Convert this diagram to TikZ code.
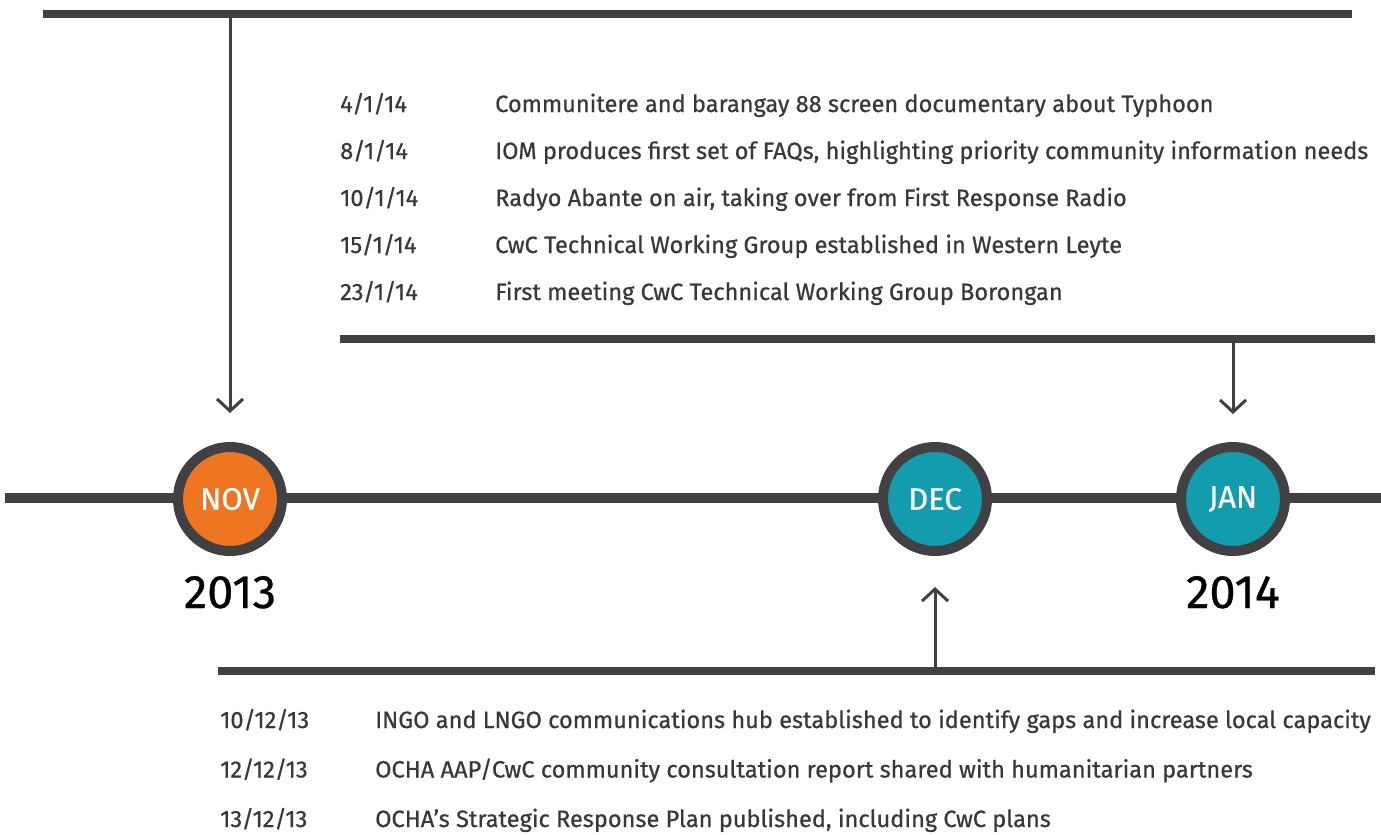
\documentclass[tikz,border=0pt]{standalone}
\usepackage{fontspec}
\setmainfont{Fira Sans}[UprightFeatures={FakeBold=0.6}]
\usepackage{xcolor}
\usetikzlibrary{arrows.meta}
\definecolor{bar}{HTML}{414042}
\definecolor{novc}{HTML}{EE7623}
\definecolor{tealc}{HTML}{139BAE}
\definecolor{txt}{HTML}{38383A}

\begin{document}
\begin{tikzpicture}[x=1pt,y=-1pt,
  month/.style={circle,draw=bar,line width=10pt,minimum size=104pt,inner sep=0pt,
    text=white,font=\fontsize{31}{31}\selectfont},
  year/.style={anchor=base,font=\fontsize{47}{47}\selectfont},
  date/.style={anchor=base west,text=txt,inner sep=0pt,font=\fontsize{23.6}{24}\selectfont},
  pointer/.style={bar,line width=3pt,-{Straight Barb[length=12pt,width=26pt]}}]
\useasboundingbox (0,0) rectangle (1381,835);
% bars
\draw[bar,line width=10pt] (5,498)--(1381,498);
\draw[bar,line width=8pt] (43,14)--(1352,14);
\draw[bar,line width=8pt] (340,339)--(1375,339);
\draw[bar,line width=8pt] (218,671)--(1375,671);
% months
\node[month,fill=novc] (nov) at (230,499) {NOV};
\node[month,fill=tealc] (dec) at (935,499) {DEC};
\node[month,fill=tealc] (jan) at (1233,499) {JAN};
\node[year] (y13) at (230,608) {2013};
\node[year] (y14) at (1233,608) {2014};
% pointers
\coordinate (novtop) at (230,18);
\coordinate (novtip) at (230,413);
\coordinate (jantop) at (1233,343);
\coordinate (jantip) at (1233,414);
\coordinate (decbot) at (935,667);
\coordinate (dectip) at (935,587);
\draw[pointer] (novtop)--(novtip);
\draw[pointer] (jantop)--(jantip);
\draw[pointer] (decbot)--(dectip);
% january events
\foreach \d/\t [count=\i] in {{4/1/14}/Communitere and barangay 88 screen documentary about Typhoon,
  {8/1/14}/{IOM produces first set of FAQs, highlighting priority community information needs},
  {10/1/14}/{Radyo Abante on air, taking over from First Response Radio},
  {15/1/14}/CwC Technical Working Group established in Western Leyte,
  {23/1/14}/First meeting CwC Technical Working Group Borongan}{
  \node[date] (jd\i) at (340,65+47*\i) {\d};
  \node[date] (je\i) at (495,65+47*\i) {\t};
}
% december events
\foreach \d/\t [count=\i] in {{10/12/13}/INGO and LNGO communications hub established to identify gaps and increase local capacity,
  {12/12/13}/{OCHA AAP/CwC community consultation report shared with humanitarian partners},
  {13/12/13}/{OCHA’s Strategic Response Plan published, including CwC plans}}{
  \node[date] (dd\i) at (220,678.5+49.5*\i) {\d};
  \node[date] (de\i) at (375,678.5+49.5*\i) {\t};
}
\end{tikzpicture}
\end{document}
